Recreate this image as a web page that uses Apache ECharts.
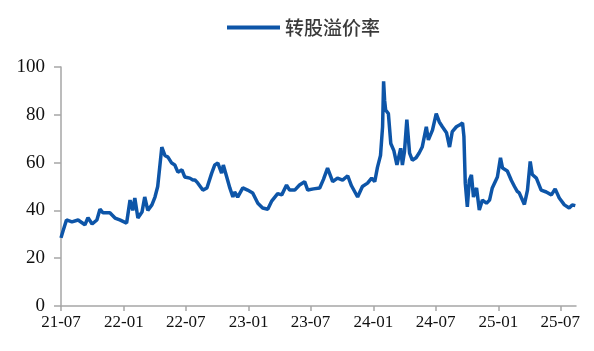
<!DOCTYPE html>
<html>
<head>
<meta charset="utf-8">
<script src="https://cdn.jsdelivr.net/npm/echarts@6/dist/echarts.min.js"></script>
<style>
  html, body { margin: 0; padding: 0; background: #fff; }
  #chart { width: 594px; height: 351px; }
</style>
</head>
<body>
<div id="chart"></div>
<script>
// 转股溢价率 (%)
const dates = [
  '2021-07-01','2021-07-06','2021-07-17','2021-08-02','2021-08-20','2021-09-09','2021-09-18','2021-09-30',
  '2021-10-14','2021-10-23','2021-11-01','2021-11-21','2021-12-06','2021-12-20','2022-01-09','2022-01-19',
  '2022-01-27','2022-02-02','2022-02-11','2022-02-23','2022-03-03','2022-03-12','2022-03-24','2022-04-02',
  '2022-04-10','2022-04-22','2022-05-01','2022-05-10','2022-05-21','2022-05-30','2022-06-08','2022-06-20',
  '2022-06-28','2022-07-13','2022-07-22','2022-07-28','2022-08-05','2022-08-20','2022-09-01','2022-09-15',
  '2022-09-24','2022-10-03','2022-10-14','2022-10-19','2022-10-29','2022-11-07','2022-11-16','2022-11-21',
  '2022-11-30','2022-12-15','2022-12-29','2023-01-13','2023-01-28','2023-02-11','2023-02-26','2023-03-10',
  '2023-03-27','2023-04-08','2023-04-22','2023-05-01','2023-05-16','2023-05-30','2023-06-14','2023-06-23',
  '2023-07-10','2023-07-28','2023-08-08','2023-08-20','2023-09-04','2023-09-18','2023-10-03','2023-10-18',
  '2023-10-29','2023-11-16','2023-11-30','2023-12-15','2023-12-27','2024-01-05','2024-01-13','2024-01-22',
  '2024-01-28','2024-01-31','2024-02-03','2024-02-06','2024-02-14','2024-02-21','2024-03-01','2024-03-10',
  '2024-03-21','2024-03-26','2024-04-01','2024-04-08','2024-04-16','2024-04-24','2024-05-05','2024-05-14',
  '2024-05-23','2024-06-04','2024-06-10','2024-06-22','2024-07-03','2024-07-12','2024-07-21','2024-08-02',
  '2024-08-11','2024-08-19','2024-08-31','2024-09-09','2024-09-18','2024-09-22','2024-09-26','2024-10-02',
  '2024-10-08','2024-10-14','2024-10-20','2024-10-29','2024-11-06','2024-11-15','2024-11-27','2024-12-06',
  '2024-12-14','2024-12-29','2025-01-07','2025-01-13','2025-01-27','2025-02-08','2025-02-17','2025-02-25',
  '2025-03-03','2025-03-18','2025-03-27','2025-04-04','2025-04-10','2025-04-22','2025-05-06','2025-05-21',
  '2025-06-05','2025-06-16','2025-06-28','2025-07-13','2025-07-27','2025-08-05','2025-08-14'
];
const premium = [
  28.5, 31, 36, 35.2, 36, 34, 37, 34.3,
  36, 40.5, 39, 39, 36.8, 36, 34.7, 44.3,
  40, 45.2, 36.8, 39.3, 45.6, 40, 42.3, 45.6,
  50, 66.5, 63, 62.3, 59.8, 59, 56, 57,
  54, 53.5, 52.7, 52.7, 51.5, 48.5, 49.4, 55.6,
  59, 59.8, 55.6, 59, 54, 49.4, 45.6, 47.7,
  45.6, 49.4, 48.5, 47.3, 43, 41, 40.5, 44,
  47, 46.5, 50.6, 48.5, 48.5, 50.6, 52, 48.5,
  49, 49.4, 53, 57.7, 52, 53.5, 52.7, 54.5,
  50.3, 45.6, 50, 51.4, 53.5, 52, 58, 63,
  75, 94, 86, 82, 80.5, 68, 65, 59,
  66, 59, 64.5, 78, 64, 61, 62, 64,
  66.5, 75, 69.5, 73.6, 80.5, 77, 75, 72.5,
  66.5, 73, 75, 75.7, 76.6, 71, 51.4, 41.5,
  52.7, 54.8, 45.6, 49.4, 40.2, 44.3, 43, 44.3,
  49.4, 54, 62, 57.7, 56.5, 52.5, 50, 48,
  47.3, 42.5, 48.5, 60.5, 55, 53.5, 48.5, 47.7,
  46.5, 49, 45.2, 42.3, 41, 42.3, 42
];
const tickDates = [
  '2021-07-01', '2022-01-01', '2022-07-01', '2023-01-01', '2023-07-01',
  '2024-01-01', '2024-07-01', '2025-01-01', '2025-07-01'
];
const xStart = '2021-07-01';
const xEnd = '2025-08-16';
const yTicks = [0, 20, 40, 60, 80, 100];

function toTime(s) {
  const p = s.split('-');
  return Date.UTC(+p[0], +p[1] - 1, +p[2]);
}
const tickValues = tickDates.map(toTime);
const seriesData = dates.map(function (d, i) { return [toTime(d), premium[i]]; });

const chart = echarts.init(document.getElementById('chart'), null, { renderer: 'canvas' });
const option = {
  animation: false,
  legend: {
    top: 13,
    left: 222,
    icon: 'rect',
    itemWidth: 53,
    itemHeight: 4,
    itemGap: 10,
    textStyle: {
      fontFamily: 'Noto Sans CJK SC',
      fontSize: 19,
      fontWeight: 500,
      color: '#3a3a3a'
    },
    data: ['转股溢价率']
  },
  grid: {
    left: 61,
    right: 18,
    top: 67,
    bottom: 45,
    containLabel: false
  },
  xAxis: {
    type: 'value',
    min: toTime(xStart),
    max: toTime(xEnd),
    splitLine: { show: false },
    axisLine: { lineStyle: { color: '#a6a6a6', width: 1.5 } },
    axisTick: {
      show: true,
      length: 5,
      customValues: tickValues,
      lineStyle: { color: '#a6a6a6', width: 1.5 }
    },
    axisLabel: {
      customValues: tickValues,
      margin: 8,
      fontFamily: 'Liberation Serif',
      fontSize: 17,
      color: '#111',
      formatter: function (v) {
        const d = new Date(v);
        const yy = String(d.getUTCFullYear()).slice(2);
        const mm = String(d.getUTCMonth() + 1).padStart(2, '0');
        return yy + '-' + mm;
      }
    }
  },
  yAxis: {
    type: 'value',
    min: yTicks[0],
    max: yTicks[yTicks.length - 1],
    interval: 20,
    splitLine: { show: false },
    axisLine: { show: true, lineStyle: { color: '#a6a6a6', width: 1.5 } },
    axisTick: { show: true, length: 7, lineStyle: { color: '#a6a6a6', width: 1.5 } },
    axisLabel: {
      margin: 16,
      fontFamily: 'Liberation Serif',
      fontSize: 19,
      color: '#111'
    }
  },
  series: [
    {
      name: '转股溢价率',
      type: 'line',
      data: seriesData,
      showSymbol: false,
      symbol: 'none',
      color: '#0d55a8',
      lineStyle: { width: 3.5, color: '#0d55a8' }
    }
  ]
};
chart.setOption(option);
</script>
</body>
</html>
